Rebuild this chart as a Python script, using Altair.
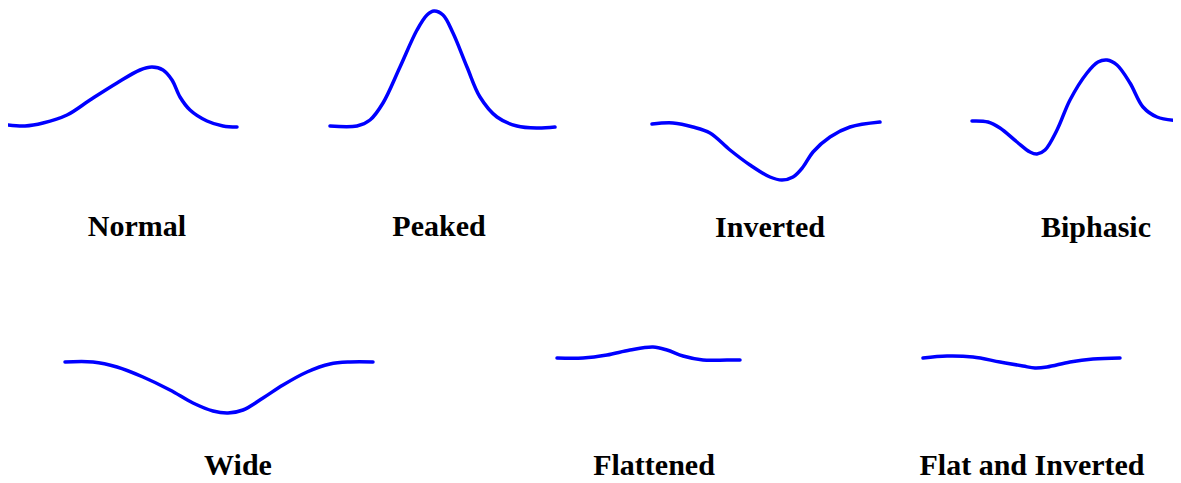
import altair as alt
import pandas as pd

# Waveform samples (x, y), in picture units (y grows downward)
normal_x = [8, 25, 43, 67, 90, 117, 140, 152, 163, 172, 180, 190, 207, 223, 237]
normal_y = [125, 126, 123, 115, 100, 83, 70, 67, 70, 80, 97, 110, 121, 126, 127]

peaked_x = [330, 357, 370, 383, 400, 417, 427, 434, 443, 453, 467, 480, 497, 517, 537, 555]
peaked_y = [126, 126, 120, 103, 67, 30, 15, 11, 15, 33, 67, 97, 117, 126, 128, 127]

inverted_x = [652, 673, 693, 710, 730, 750, 770, 782, 793, 803, 813, 830, 850, 880]
inverted_y = [124, 123, 127, 133, 150, 165, 177, 180, 177, 167, 152, 137, 127, 122]

biphasic_x = [972, 988, 1000, 1017, 1030, 1037, 1045, 1057, 1070, 1087, 1098, 1107, 1117, 1130, 1143, 1157, 1181]
biphasic_y = [121, 122, 128, 142, 152, 154, 150, 130, 100, 73, 62, 60, 65, 83, 107, 117, 121]

wide_x = [65, 93, 117, 143, 170, 193, 213, 228, 243, 263, 283, 307, 330, 350, 373]
wide_y = [362, 362, 367, 377, 390, 403, 411, 413, 410, 398, 385, 372, 364, 362, 362]

flattened_x = [557, 583, 607, 630, 653, 667, 683, 703, 727, 740]
flattened_y = [358, 358, 355, 350, 347, 350, 356, 360, 360, 360]

flatinv_x = [923, 947, 973, 1000, 1023, 1035, 1047, 1070, 1093, 1120]
flatinv_y = [358, 356, 357, 362, 366, 368, 367, 362, 359, 358]

labels = ["Normal", "Peaked", "Inverted", "Biphasic", "Wide", "Flattened", "Flat and Inverted"]
label_x = [137, 439, 770, 1096, 238, 654, 1032]
label_y = [236, 236, 237, 237, 475, 475, 475]

series = [
    ("Normal", normal_x, normal_y),
    ("Peaked", peaked_x, peaked_y),
    ("Inverted", inverted_x, inverted_y),
    ("Biphasic", biphasic_x, biphasic_y),
    ("Wide", wide_x, wide_y),
    ("Flattened", flattened_x, flattened_y),
    ("Flat and Inverted", flatinv_x, flatinv_y),
]
rows = []
for name, xs_, ys_ in series:
    for i, (x, y) in enumerate(zip(xs_, ys_)):
        rows.append({"wave": name, "order": i, "x": x, "y": y})
curves = pd.DataFrame(rows)
texts = pd.DataFrame({"label": labels, "x": label_x, "y": label_y})

xs = alt.Scale(domain=[8, 1173], nice=False, zero=False)
ys = alt.Scale(domain=[8, 490], nice=False, zero=False, reverse=True)

lines = alt.Chart(curves).mark_line(
    color="#0000ff", strokeWidth=3.5, interpolate="catmull-rom", strokeCap="round"
).encode(
    x=alt.X("x:Q", scale=xs, axis=None),
    y=alt.Y("y:Q", scale=ys, axis=None),
    detail="wave:N",
    order="order:Q",
)

text = alt.Chart(texts).mark_text(
    font="Liberation Serif", fontWeight="bold", fontSize=30, color="#000000",
    align="center", baseline="alphabetic",
).encode(
    x=alt.X("x:Q", scale=xs, axis=None),
    y=alt.Y("y:Q", scale=ys, axis=None),
    text="label:N",
)

chart = alt.layer(lines, text).properties(
    width=1165, height=482, padding=0,
    autosize=alt.AutoSizeParams(type="none"),
).configure_view(stroke=None)

chart.save("out.html", embed_options={"renderer": "svg", "actions": False})
